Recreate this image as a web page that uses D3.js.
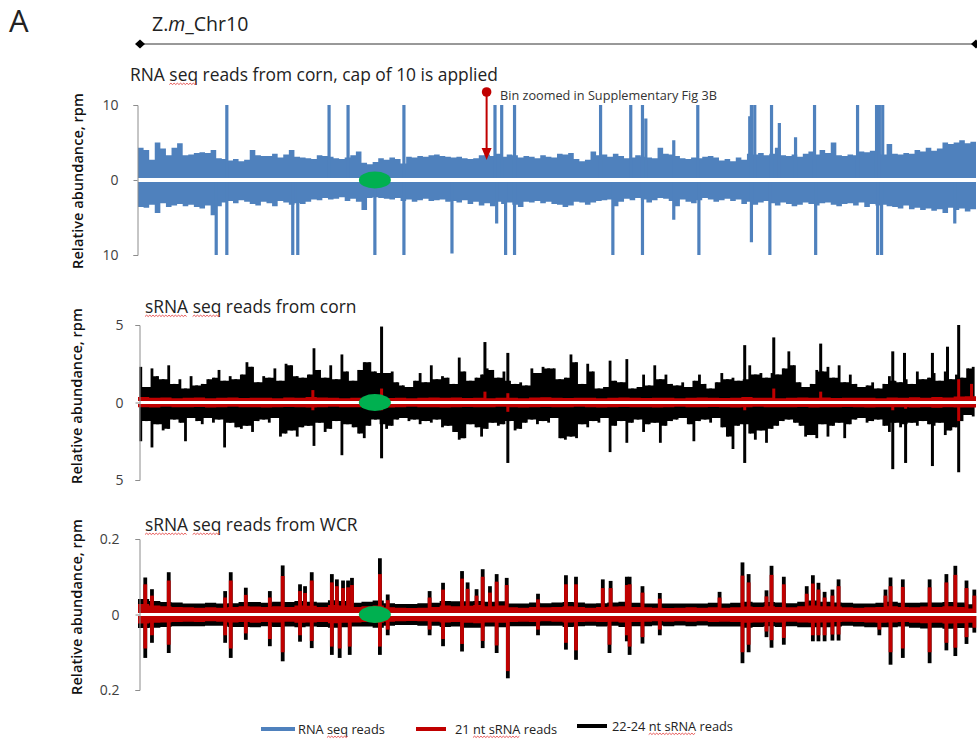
<!DOCTYPE html>
<html>
<head>
<meta charset="utf-8">
<style>
  body { margin: 0; background: #fff; }
  text { font-family: "Open Sans", sans-serif; fill: #222; }
  .title { font-size: 17.4px; }
  .tick text { font-size: 14px; fill: #404040; font-family: "Open Sans", sans-serif; }
  .tick line, .domain { stroke: #8c8c8c; }
  .ylab { font-size: 14.6px; font-weight: 600; fill: #111; }
  .leg { font-size: 12.8px; }
</style>
</head>
<body>
<svg width="977" height="742"></svg>
<script src="https://d3js.org/d3.v7.min.js"></script>
<script>
// chromosome length in Mb, centromere and zoomed bin positions
var chrLen = 150;
var centromere = 42.4;
var zoomedBin = 62.4;

// ---- RNA seq (corn), 1 Mb bins, capped at 10
var rnaUp = [4.3,4.0,2.7,5.0,4.2,3.3,4.3,4.9,3.3,3.4,
  3.6,3.7,3.6,4.0,2.9,2.8,2.6,2.8,2.5,2.7,
  4.0,3.3,3.2,3.2,3.5,3.0,3.4,4.0,3.1,3.0,
  2.9,2.8,3.3,3.2,3.1,2.9,2.8,3.0,3.3,3.8,
  2.3,2.1,2.4,2.9,2.7,3.0,2.8,2.2,3.1,3.0,
  3.2,3.1,3.3,3.4,3.2,3.1,3.0,3.1,2.9,2.8,
  2.9,3.3,3.4,3.2,3.5,3.1,3.4,3.3,3.0,3.2,
  3.1,2.9,3.3,3.1,3.0,3.5,3.4,3.6,2.8,2.5,
  2.7,3.8,3.3,3.4,3.1,3.5,3.2,2.9,3.0,3.3,
  3.1,3.0,2.9,4.3,3.5,3.4,3.2,2.9,2.8,3.0,
  2.9,3.1,3.2,3.0,2.6,2.8,2.5,3.0,2.7,3.5,
  3.4,3.6,3.3,3.5,4.3,3.3,3.2,3.4,3.1,3.5,
  3.8,3.4,4.0,3.6,5.0,3.3,3.2,3.4,3.3,3.8,
  3.7,3.9,3.5,3.4,4.8,3.5,3.4,3.6,3.5,4.0,
  3.8,4.3,3.9,4.2,5.0,4.8,5.0,5.3,4.9,5.1];
var rnaDown = [3.6,3.7,3.3,4.4,3.1,3.6,3.4,3.2,3.5,3.3,
  3.6,3.8,3.4,4.7,3.5,3.0,2.8,3.1,2.7,2.9,
  3.2,3.4,2.9,3.1,3.5,2.8,3.0,3.3,3.1,3.2,
  2.9,2.6,2.7,2.4,2.6,2.5,2.3,2.8,2.5,2.9,
  4.0,2.4,2.3,2.4,2.5,2.6,2.4,2.8,2.6,2.9,
  2.7,2.5,2.8,2.7,2.6,2.9,2.8,3.0,2.7,3.2,
  2.9,3.4,3.1,3.5,2.9,3.2,3.0,3.3,3.6,2.9,
  3.0,2.8,3.1,2.9,3.2,3.3,3.6,3.4,2.9,3.0,
  3.3,3.0,2.8,2.7,2.6,3.5,2.9,2.5,2.7,2.4,
  2.6,3.0,2.7,2.4,2.5,2.8,3.5,2.6,2.9,3.1,
  2.7,2.4,2.6,2.9,2.7,2.5,2.8,2.6,3.2,2.9,
  3.3,3.0,2.8,3.1,3.4,3.0,3.2,3.5,3.3,3.0,
  3.2,3.4,3.1,3.0,3.3,3.5,3.2,3.1,3.4,3.0,
  3.6,3.2,3.4,3.3,3.5,3.6,3.8,3.4,3.9,3.7,
  4.0,3.8,4.1,3.9,4.4,3.7,4.0,3.8,4.2,3.9];
var rnaSpikeUpPos = [15.9,34.2,37.6,47.6,63.9,65.1,67.4,82.8,88.2,90.3,90.9,95.9,100.2,109.5,109.8,110.4,113.4,114.8,117.7,121.1,128.8,132.2,132.7,133.3];
var rnaSpikeUpVal = [10,10,10,10,10,10,10,10,10,10,8.2,5.3,10,8.5,10,10,10,7.6,5.7,10,10,10,10,10];
var rnaSpikeDnPos = [14.0,15.9,27.7,28.6,42.4,47.6,56.2,64.2,65.8,67.4,85.0,90.3,95.9,100.4,109.8,113.1,121.3,132.4,133.1,146.2];
var rnaSpikeDnVal = [10,10,10,10,10,10,9.8,5.8,10,10,10,10,5.3,10,8.3,10,10,10,10,5.8];

// ---- sRNA seq (corn), 22-24 nt in black, 1 Mb bins
var cornBlackUp = [2.3,1.0,2.2,1.7,1.5,2.4,1.2,1.5,0.9,1.7,
  1.1,1.2,1.5,1.6,2.1,1.4,1.7,1.5,1.8,2.6,
  2.3,1.3,1.7,1.6,2.2,1.4,2.5,2.4,1.7,1.6,
  1.8,3.5,2.1,1.6,2.4,1.5,3.1,2.0,1.4,2.1,
  2.6,2.6,2.0,1.9,1.9,2.0,1.3,1.1,1.0,1.4,
  1.9,1.3,2.4,1.5,1.7,1.6,1.2,2.9,2.0,1.4,
  1.6,1.8,2.2,2.1,1.6,2.0,1.4,1.2,1.3,1.1,
  2.2,1.9,2.3,2.2,2.2,1.5,1.6,3.1,2.6,1.2,
  2.5,2.0,0.9,1.0,2.7,1.4,1.3,2.8,0.9,1.0,
  1.8,1.1,2.4,1.5,1.8,1.2,1.1,1.3,1.0,1.4,
  1.8,1.2,0.9,1.3,1.9,1.5,1.6,1.4,1.5,2.4,
  1.8,1.9,1.6,1.9,1.8,2.2,3.3,2.4,1.3,1.0,
  1.2,2.1,2.0,2.3,1.6,2.4,1.3,1.8,1.2,1.0,
  1.1,1.3,0.9,1.2,1.7,1.4,1.3,1.5,1.2,2.0,
  1.5,1.6,1.9,1.4,2.0,1.5,1.8,1.6,2.2,2.3];
var cornBlackDown = [2.5,1.2,2.9,1.4,1.8,1.7,1.1,1.3,2.5,1.0,
  1.2,1.4,1.0,1.3,1.1,2.9,1.3,1.6,1.7,1.5,
  1.9,1.2,1.1,1.3,1.0,2.2,2.0,1.8,2.2,1.6,
  1.5,2.8,1.3,1.9,1.7,1.2,3.4,1.4,1.6,2.0,
  2.3,1.5,1.1,1.4,1.7,1.5,1.1,1.0,1.2,1.1,
  1.4,1.2,1.3,1.1,1.6,1.5,1.9,2.4,2.3,1.4,
  1.6,2.2,1.7,1.3,1.5,1.4,1.2,1.8,1.7,1.3,
  1.1,1.4,1.2,1.3,1.0,2.3,2.4,2.2,2.3,1.4,
  1.6,1.2,1.3,1.0,3.2,1.5,1.2,2.6,1.3,1.1,
  1.9,1.4,1.3,2.6,1.5,1.2,1.1,1.0,1.4,2.5,
  1.2,1.1,1.3,1.0,1.6,2.2,3.0,1.5,1.4,2.0,
  2.4,1.8,2.6,1.7,1.5,1.2,1.1,1.3,1.5,2.2,
  2.1,2.3,1.4,2.2,1.5,1.3,2.3,1.4,1.1,1.0,
  1.3,1.2,1.1,1.5,1.9,1.3,1.6,1.4,1.3,1.5,
  1.2,1.4,1.5,1.3,2.1,1.8,1.6,1.2,0.8,0.9];
var cornBlackSpikeUpPos = [43.6,62.1,66.2,108.6,113.8,122.2,135.1,137.2,142.2,144.9,146.9];
var cornBlackSpikeUpVal = [4.9,3.9,3.2,3.7,4.2,3.8,3.3,3.2,3.2,3.6,5.0];
var cornBlackSpikeDnPos = [43.6,66.2,108.6,135.1,137.4,142.2,146.9];
var cornBlackSpikeDnVal = [3.6,3.9,3.9,4.3,3.9,4.1,4.5];
// 21 nt in red, 2 Mb bins
var cornRedUp = [0.35,0.3,0.32,0.28,0.3,0.33,0.27,0.3,0.32,0.29,
  0.31,0.3,0.28,0.33,0.3,0.35,0.32,0.3,0.28,0.3,
  0.27,0.3,0.29,0.31,0.28,0.3,0.32,0.3,0.33,0.29,
  0.3,0.28,0.31,0.3,0.27,0.32,0.34,0.3,0.29,0.31,
  0.3,0.28,0.3,0.33,0.3,0.29,0.31,0.3,0.28,0.3,
  0.32,0.3,0.29,0.3,0.35,0.31,0.3,0.28,0.3,0.32,
  0.3,0.33,0.29,0.31,0.3,0.3,0.28,0.32,0.3,0.34,
  0.3,0.35,0.32,0.38,0.4];
var cornRedDown = [0.3,0.33,0.28,0.3,0.31,0.29,0.32,0.3,0.28,0.3,
  0.31,0.33,0.3,0.29,0.3,0.32,0.3,0.28,0.31,0.3,
  0.29,0.3,0.32,0.3,0.28,0.31,0.3,0.33,0.3,0.29,
  0.31,0.3,0.28,0.3,0.32,0.3,0.29,0.31,0.3,0.28,
  0.3,0.32,0.3,0.29,0.31,0.3,0.33,0.3,0.28,0.3,
  0.31,0.29,0.3,0.32,0.3,0.28,0.3,0.31,0.3,0.29,
  0.32,0.3,0.31,0.29,0.3,0.33,0.3,0.31,0.3,0.32,
  0.3,0.34,0.31,0.33,0.32];
var cornRedSpikeUpPos = [31.3,43.6,62.1,66.2,113.8,122.2,146.9,149.2];
var cornRedSpikeUpVal = [0.8,0.9,0.7,0.6,0.9,0.7,1.5,1.2];
var cornRedSpikeDnPos = [31.3,43.6,66.2,108.6,135.1,137.4,146.9];
var cornRedSpikeDnVal = [0.5,0.5,0.6,0.5,0.5,0.4,1.2];

// ---- sRNA seq (WCR), 2 Mb bins; black 22-24 nt stacked on red 21 nt
var wcrRedUp = [0.028,0.024,0.022,0.02,0.019,0.018,0.019,0.018,0.02,0.022,
  0.021,0.02,0.022,0.02,0.024,0.023,0.02,0.025,0.024,0.02,
  0.022,0.024,0.019,0.018,0.017,0.018,0.02,0.024,0.022,0.023,
  0.025,0.022,0.024,0.019,0.018,0.02,0.019,0.02,0.022,0.02,
  0.018,0.02,0.021,0.022,0.02,0.019,0.018,0.017,0.018,0.019,
  0.018,0.019,0.018,0.019,0.021,0.02,0.022,0.02,0.019,0.022,
  0.024,0.022,0.021,0.019,0.018,0.019,0.02,0.022,0.02,0.019,
  0.021,0.02,0.022,0.02,0.016];
var wcrBlackUp = [0.013,0.012,0.011,0.012,0.01,0.011,0.012,0.011,0.01,0.011,
  0.012,0.011,0.012,0.013,0.012,0.011,0.012,0.013,0.012,0.011,
  0.012,0.013,0.011,0.01,0.011,0.012,0.011,0.012,0.013,0.012,
  0.011,0.012,0.011,0.01,0.011,0.012,0.011,0.012,0.011,0.012,
  0.011,0.01,0.011,0.012,0.011,0.01,0.011,0.012,0.011,0.01,
  0.011,0.012,0.011,0.012,0.013,0.012,0.011,0.012,0.011,0.012,
  0.013,0.012,0.011,0.012,0.011,0.01,0.011,0.012,0.011,0.012,
  0.011,0.012,0.011,0.012,0.011];
var wcrRedDown = [0.024,0.022,0.021,0.02,0.019,0.02,0.018,0.019,0.021,0.02,
  0.022,0.02,0.021,0.019,0.022,0.021,0.02,0.023,0.022,0.021,
  0.02,0.022,0.019,0.018,0.017,0.018,0.019,0.021,0.02,0.022,
  0.023,0.021,0.022,0.02,0.019,0.02,0.018,0.019,0.021,0.02,
  0.019,0.02,0.019,0.021,0.02,0.019,0.018,0.019,0.018,0.019,
  0.018,0.02,0.019,0.02,0.022,0.021,0.02,0.021,0.019,0.021,
  0.022,0.021,0.02,0.019,0.02,0.021,0.022,0.021,0.02,0.022,
  0.023,0.022,0.024,0.023,0.022];
var wcrBlackDown = [0.012,0.013,0.012,0.011,0.012,0.011,0.012,0.011,0.012,0.013,
  0.012,0.011,0.012,0.013,0.012,0.011,0.013,0.012,0.012,0.011,
  0.012,0.013,0.011,0.01,0.011,0.012,0.011,0.012,0.012,0.013,
  0.012,0.011,0.012,0.011,0.012,0.011,0.012,0.011,0.012,0.011,
  0.011,0.012,0.011,0.012,0.011,0.012,0.011,0.012,0.011,0.012,
  0.011,0.012,0.013,0.012,0.013,0.012,0.011,0.012,0.012,0.013,
  0.012,0.013,0.012,0.011,0.012,0.013,0.012,0.013,0.012,0.013,
  0.014,0.013,0.014,0.013,0.013];
var wcrSpikeUpPos = [1.3,2.5,5.5,15.6,16.6,19.3,23.6,25.9,29.0,29.9,31.1,34.7,35.6,36.7,37.6,38.3,43.3,44.7,52.2,54.6,58.0,59.0,60.6,61.7,63.0,64.2,66.0,71.6,76.6,78.4,83.2,84.6,87.5,88.0,90.3,93.4,104.1,108.2,109.3,112.5,113.4,115.6,119.7,120.8,121.8,122.9,124.3,125.4,133.8,134.7,136.9,141.7,144.7,146.3,148.3,149.7];
var wcrSpikeUpRed = [0.08,0.05,0.09,0.045,0.09,0.052,0.045,0.102,0.062,0.057,0.09,0.085,0.075,0.07,0.072,0.078,0.107,0.038,0.045,0.066,0.095,0.068,0.05,0.1,0.058,0.087,0.078,0.04,0.08,0.08,0.07,0.07,0.078,0.08,0.058,0.042,0.045,0.103,0.085,0.048,0.105,0.08,0.055,0.082,0.066,0.045,0.05,0.075,0.05,0.075,0.073,0.072,0.085,0.105,0.07,0.05];
var wcrSpikeUpBlack = [0.018,0.017,0.022,0.017,0.022,0.019,0.017,0.028,0.018,0.018,0.022,0.022,0.018,0.02,0.018,0.019,0.042,0.015,0.017,0.018,0.02,0.017,0.017,0.02,0.017,0.02,0.019,0.015,0.024,0.02,0.023,0.019,0.022,0.02,0.017,0.015,0.015,0.035,0.022,0.016,0.024,0.02,0.02,0.022,0.018,0.015,0.016,0.018,0.016,0.023,0.02,0.021,0.022,0.024,0.02,0.016];
var wcrSpikeDnPos = [1.3,2.5,5.5,15.6,16.6,19.3,23.6,25.9,29.0,31.1,34.7,36.1,37.9,43.3,44.7,52.2,54.6,58.0,61.7,64.2,66.2,71.6,76.6,78.4,84.4,87.5,88.0,90.3,93.4,108.2,109.3,112.5,113.4,115.6,120.8,121.8,122.9,124.3,125.4,132.7,134.7,136.9,141.7,144.7,146.3,148.3,149.7];
var wcrSpikeDnRed = [0.09,0.055,0.08,0.055,0.09,0.05,0.065,0.1,0.055,0.07,0.085,0.09,0.085,0.085,0.04,0.04,0.065,0.078,0.07,0.082,0.15,0.04,0.075,0.095,0.08,0.055,0.085,0.06,0.04,0.1,0.08,0.045,0.068,0.062,0.055,0.055,0.055,0.053,0.053,0.04,0.1,0.09,0.1,0.075,0.088,0.06,0.035];
var wcrSpikeDnBlack = [0.025,0.02,0.022,0.02,0.025,0.017,0.019,0.024,0.017,0.019,0.022,0.025,0.022,0.022,0.015,0.015,0.019,0.02,0.019,0.02,0.019,0.015,0.018,0.025,0.022,0.016,0.022,0.017,0.015,0.029,0.02,0.015,0.02,0.018,0.016,0.016,0.016,0.016,0.016,0.015,0.033,0.025,0.029,0.02,0.022,0.018,0.013];

var panelTicks = [[-10, 0, 10], [-5, 0, 5], [-0.2, 0, 0.2]];

var blue = "#4f81bd", red = "#c00000", black = "#000", green = "#00b050";

var svg = d3.select("svg");
var x = d3.scaleLinear().domain([0, chrLen]).range([138, 976]);

// step area from a binned array (sign +1 up, -1 down)
function binArea(g, vals, y, sign, color) {
  var w = chrLen / vals.length;
  var pts = vals.map(function(v, i) { return [i * w, v]; });
  pts.push([chrLen, vals[vals.length - 1]]);
  var area = d3.area().curve(d3.curveStepAfter)
    .x(function(d) { return x(d[0]); })
    .y0(y(0))
    .y1(function(d) { return y(sign * d[1]); });
  g.append("path").attr("d", area(pts)).attr("fill", color);
}

// thin bars per bin, with the gap between two bars filled to the lower one
function binBars(g, vals, y, sign, color, bw) {
  var w = chrLen / vals.length;
  var fill = vals.map(function(v, i) {
    return [(i + 0.5) * w, Math.min(v, i < vals.length - 1 ? vals[i + 1] : v)];
  });
  var area = d3.area().curve(d3.curveStepAfter)
    .x(function(d) { return x(d[0]); })
    .y0(y(0))
    .y1(function(d) { return y(sign * d[1]); });
  g.append("path").attr("d", area(fill)).attr("fill", color);
  g.selectAll(null).data(vals).enter().append("rect")
    .attr("x", function(d, i) { return x((i + 0.5) * w) - bw / 2; })
    .attr("width", bw)
    .attr("y", function(d) { return sign > 0 ? y(d) : y(0); })
    .attr("height", function(d) { return Math.abs(y(d) - y(0)); })
    .attr("fill", color);
}

function spikes(g, pos, vals, y, sign, color, bw) {
  g.selectAll(null).data(d3.zip(pos, vals)).enter().append("rect")
    .attr("x", function(d) { return x(d[0]) - bw / 2; })
    .attr("width", bw)
    .attr("y", function(d) { return sign > 0 ? y(d[1]) : y(0); })
    .attr("height", function(d) { return Math.abs(y(d[1]) - y(0)); })
    .attr("fill", color);
}

function axis(y, ticks, fmt, ax, pad) {
  var a = d3.axisLeft(y).tickValues(ticks)
    .tickFormat(function(d) { return fmt(Math.abs(d)); })
    .tickSize(4).tickSizeOuter(4).tickPadding(pad);
  var ga = svg.append("g").attr("transform", "translate(" + ax + ",0)").call(a);
  ga.selectAll("text").attr("dy", "0.35em");
}

function zeroLine(y, w) {
  svg.append("line").attr("x1", x(0)).attr("x2", 977)
    .attr("y1", y(0)).attr("y2", y(0))
    .attr("stroke", "#fff").attr("stroke-width", w);
}

function centro(y) {
  svg.append("ellipse").attr("cx", x(centromere)).attr("cy", y(0))
    .attr("rx", 16).attr("ry", 8.5).attr("fill", green);
}

// red spell-check squiggle under given words
function wavy(t, words) {
  var node = t.node(), s = node.textContent;
  var tx = +t.attr("x"), ty = +t.attr("y");
  words.forEach(function(wd) {
    var i = s.indexOf(wd);
    var x0 = tx + (i > 0 ? node.getSubStringLength(0, i) : 0);
    var len = node.getSubStringLength(i, wd.length);
    var d = "M" + x0 + "," + (ty + 3.5);
    for (var k = 1; k * 1.6 <= len; k++) {
      d += "L" + (x0 + k * 1.6) + "," + (ty + (k % 2 ? 2.2 : 3.5));
    }
    svg.append("path").attr("d", d).attr("fill", "none")
      .attr("stroke", "#e03030").attr("stroke-width", 0.8);
  });
}

function yLabel(tx, ty) {
  svg.append("text").attr("class", "ylab")
    .attr("transform", "translate(" + tx + "," + ty + ") rotate(-90)")
    .attr("text-anchor", "middle")
    .text("Relative abundance, rpm");
}

// ---------- header
svg.append("text").attr("x", 9).attr("y", 32).style("font-size", "31px").text("A");
var chrT = svg.append("text").attr("x", 152).attr("y", 31).style("font-size", "19.5px");
chrT.append("tspan").text("Z.");
chrT.append("tspan").style("font-style", "italic").text("m");
chrT.append("tspan").text("_Chr10");
svg.append("line").attr("x1", 140).attr("x2", 976).attr("y1", 44).attr("y2", 44)
  .attr("stroke", "#333").attr("stroke-width", 1);
[140, 976].forEach(function(px) {
  svg.append("path").attr("d", "M" + (px - 5) + ",44L" + px + ",39.5L" + (px + 5) + ",44L" + px + ",48.5Z")
    .attr("fill", "#000");
});

// ---------- panel 1: RNA seq
var y1 = d3.scaleLinear().domain([-10, 10]).range([255, 105]);
var g1 = svg.append("g");
binArea(g1, rnaUp, y1, 1, blue);
binArea(g1, rnaDown, y1, -1, blue);
spikes(g1, rnaSpikeUpPos, rnaSpikeUpVal, y1, 1, blue, 3.2);
spikes(g1, rnaSpikeDnPos, rnaSpikeDnVal, y1, -1, blue, 3.2);
zeroLine(y1, 4);
centro(y1);
axis(y1, panelTicks[0], d3.format("d"), 137.5, 15);
var t1 = svg.append("text").attr("class", "title").attr("x", 130).attr("y", 81)
  .text("RNA seq reads from corn, cap of 10 is applied");
wavy(t1, ["seq"]);
yLabel(83, 181);

// arrow to zoomed bin
var ax0 = x(zoomedBin);
svg.append("line").attr("x1", ax0).attr("x2", ax0).attr("y1", 92).attr("y2", 150)
  .attr("stroke", red).attr("stroke-width", 2);
svg.append("path").attr("d", "M" + (ax0 - 5) + ",148L" + (ax0 + 5) + ",148L" + ax0 + ",160Z").attr("fill", red);
svg.append("circle").attr("cx", ax0).attr("cy", 92).attr("r", 4.8).attr("fill", red);
svg.append("text").attr("x", 500).attr("y", 100).style("font-size", "12.7px").style("fill", "#333")
  .text("Bin zoomed in Supplementary Fig 3B");

// ---------- panel 2: sRNA corn
var y2 = d3.scaleLinear().domain([-5, 5]).range([480, 325]);
var g2 = svg.append("g");
binBars(g2, cornBlackUp, y2, 1, black, 2.8);
binBars(g2, cornBlackDown, y2, -1, black, 2.8);
spikes(g2, cornBlackSpikeUpPos, cornBlackSpikeUpVal, y2, 1, black, 3);
spikes(g2, cornBlackSpikeDnPos, cornBlackSpikeDnVal, y2, -1, black, 3);
binArea(g2, cornRedUp, y2, 1, red);
binArea(g2, cornRedDown, y2, -1, red);
spikes(g2, cornRedSpikeUpPos, cornRedSpikeUpVal, y2, 1, red, 3);
spikes(g2, cornRedSpikeDnPos, cornRedSpikeDnVal, y2, -1, red, 3);
zeroLine(y2, 3);
centro(y2);
axis(y2, panelTicks[1], d3.format("d"), 139.5, 12);
var t2 = svg.append("text").attr("class", "title").attr("x", 145).attr("y", 313)
  .text("sRNA seq reads from corn");
wavy(t2, ["sRNA", "seq"]);
yLabel(82, 396);

// ---------- panel 3: sRNA WCR
var y3 = d3.scaleLinear().domain([-0.2, 0.2]).range([690, 539]);
var g3 = svg.append("g");
var wcrTotUp = wcrRedUp.map(function(v, i) { return v + wcrBlackUp[i]; });
var wcrTotDn = wcrRedDown.map(function(v, i) { return v + wcrBlackDown[i]; });
binArea(g3, wcrTotUp, y3, 1, black);
binArea(g3, wcrTotDn, y3, -1, black);
spikes(g3, wcrSpikeUpPos, wcrSpikeUpRed.map(function(v, i) { return v + wcrSpikeUpBlack[i]; }), y3, 1, black, 3.8);
spikes(g3, wcrSpikeDnPos, wcrSpikeDnRed.map(function(v, i) { return v + wcrSpikeDnBlack[i]; }), y3, -1, black, 3.8);
binArea(g3, wcrRedUp, y3, 1, red);
binArea(g3, wcrRedDown, y3, -1, red);
spikes(g3, wcrSpikeUpPos, wcrSpikeUpRed, y3, 1, red, 3.8);
spikes(g3, wcrSpikeDnPos, wcrSpikeDnRed, y3, -1, red, 3.8);
zeroLine(y3, 3);
centro(y3);
axis(y3, panelTicks[2], function(d) { return d === 0 ? "0" : d3.format(".1f")(d); }, 139.5, 16);
var t3 = svg.append("text").attr("class", "title").attr("x", 145).attr("y", 531)
  .text("sRNA seq reads from WCR");
wavy(t3, ["sRNA", "seq"]);
yLabel(82, 607);

// ---------- legend
var legend = [
  { color: blue, x1: 261, x2: 295, tx: 298, y: 729, label: "RNA seq reads", words: ["seq"] },
  { color: red, x1: 416, x2: 446, tx: 455, y: 729, label: "21 nt sRNA reads", words: ["nt sRNA"] },
  { color: black, x1: 577, x2: 607, tx: 612, y: 726, label: "22-24 nt sRNA reads", words: ["nt sRNA"] }
];
legend.forEach(function(l) {
  svg.append("line").attr("x1", l.x1).attr("x2", l.x2).attr("y1", l.y).attr("y2", l.y)
    .attr("stroke", l.color).attr("stroke-width", 4);
  var t = svg.append("text").attr("class", "leg").attr("x", l.tx).attr("y", l.y + 5).text(l.label);
  wavy(t, l.words);
});
</script>
</body>
</html>
